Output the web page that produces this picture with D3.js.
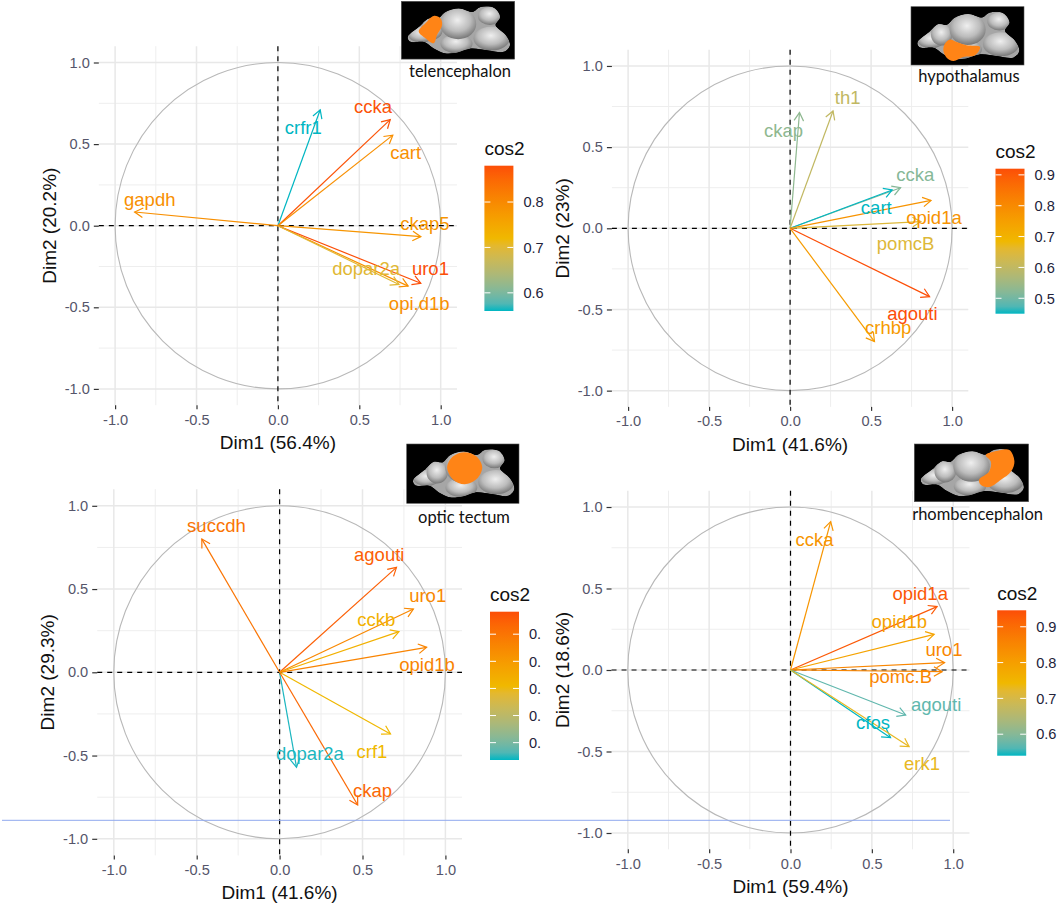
<!DOCTYPE html>
<html>
<head>
<meta charset="utf-8">
<script src="https://cdn.jsdelivr.net/npm/d3@7"></script>
<style>
  body { margin: 0; background: #fff; }
  text { font-family: "Liberation Sans", Arial, sans-serif; }
  .caption { font-family: Lato, "Open Sans", sans-serif; }
</style>
</head>
<body>
<div id="chart"></div>
<script>
// telencephalon
const telGenes = ['crfr1', 'ccka', 'cart', 'gapdh', 'ckap5', 'uro1', 'opi.d1b', 'dopar2a'];
const telDim1 = [0.26, 0.69, 0.706, -0.88, 0.878, 0.878, 0.80, 0.744];
const telDim2 = [0.71, 0.65, 0.555, 0.084, -0.067, -0.353, -0.37, -0.36];
const telCos2 = [0.56, 0.875, 0.79, 0.79, 0.78, 0.88, 0.79, 0.70];
const telLabelX = [0.156, 0.584, 0.785, -0.787, 0.903, 0.937, 0.868, 0.542];
const telLabelY = [0.597, 0.725, 0.447, 0.157, 0.01, -0.268, -0.48, -0.268];

// hypothalamus
const hypGenes = ['ckap', 'th1', 'ccka', 'cart', 'opid1a', 'pomcB', 'agouti', 'crhbp'];
const hypDim1 = [0.058, 0.265, 0.682, 0.63, 0.87, 0.807, 0.861, 0.521];
const hypDim2 = [0.713, 0.723, 0.25, 0.236, 0.172, 0.041, -0.421, -0.698];
const hypCos2 = [0.53, 0.60, 0.52, 0.45, 0.78, 0.65, 0.92, 0.76];
const hypLabelX = [-0.04, 0.355, 0.772, 0.532, 0.888, 0.713, 0.755, 0.605];
const hypLabelY = [0.60, 0.805, 0.329, 0.127, 0.062, -0.099, -0.528, -0.616];

// optic tectum
const optGenes = ['succdh', 'agouti', 'uro1', 'cckb', 'opid1b', 'crf1', 'dopar2a', 'ckap'];
const optDim1 = [-0.469, 0.705, 0.807, 0.72, 0.887, 0.669, 0.102, 0.471];
const optDim2 = [0.80, 0.63, 0.38, 0.244, 0.15, -0.37, -0.57, -0.797];
const optCos2 = [0.90, 0.95, 0.85, 0.73, 0.86, 0.71, 0.44, 0.93];
const optLabelX = [-0.381, 0.601, 0.893, 0.583, 0.889, 0.557, 0.183, 0.561];
const optLabelY = [0.879, 0.705, 0.458, 0.314, 0.044, -0.482, -0.49, -0.711];

// rhombencephalon
const rhoGenes = ['ccka', 'opid1a', 'opid1b', 'uro1', 'pomc.B', 'agouti', 'cfos', 'erk1'];
const rhoDim1 = [0.247, 0.901, 0.883, 0.947, 0.932, 0.708, 0.615, 0.729];
const rhoDim2 = [0.91, 0.389, 0.219, 0.045, -0.01, -0.276, -0.415, -0.47];
const rhoCos2 = [0.82, 0.93, 0.79, 0.85, 0.85, 0.57, 0.54, 0.73];
const rhoLabelX = [0.147, 0.797, 0.669, 0.943, 0.677, 0.895, 0.507, 0.808];
const rhoLabelY = [0.80, 0.466, 0.294, 0.123, -0.041, -0.213, -0.327, -0.577];

const axisTicks = [-1, -0.5, 0, 0.5, 1];
const axisTickLabels = ['-1.0', '-0.5', '0.0', '0.5', '1.0'];
const minorTicks = [-0.75, -0.25, 0.25, 0.75];

const width = 1059, height = 906;
const svg = d3.select('#chart').append('svg')
    .attr('width', width)
    .attr('height', height)
    .style('display', 'block');
const defs = svg.append('defs');

defs.append('filter').attr('id', 'soft')
    .append('feGaussianBlur').attr('stdDeviation', 0.45);
defs.append('clipPath').attr('id', 'legend-cut')
    .append('rect').attr('x', 0).attr('y', 560).attr('width', 541).attr('height', 240);

const lobeGrad = defs.append('radialGradient').attr('id', 'lobe-grad')
    .attr('cx', '48%').attr('cy', '38%').attr('r', '60%');
lobeGrad.append('stop').attr('offset', '0%').attr('stop-color', '#efefef');
lobeGrad.append('stop').attr('offset', '60%').attr('stop-color', '#bcbcbc');
lobeGrad.append('stop').attr('offset', '100%').attr('stop-color', '#7c7c7c');

// brain sketch, in the 339 x 174 units of the inset picture
const brainOutline = [[19,108],[52,78],[82,52],[107,54],[132,32],[172,22],[212,32],[237,17],[277,20],[295,47],[282,72],[312,102],[325,132],[307,152],[257,147],[207,142],[167,154],[132,157],[97,142],[67,122],[27,122]];
const brainLobes = [
  {c: [60, 100], r: [40, 24]},
  {c: [92, 84], r: [32, 32]},
  {c: [265, 44], r: [36, 27]},
  {c: [270, 112], r: [54, 36]},
  {c: [165, 128], r: [48, 28]},
  {c: [170, 68], r: [54, 46]}
];
const telRegion = [[52,91],[72,66],[97,44],[117,51],[122,71],[107,101],[97,126],[72,111]];
const hypRegion = [[117,98],[137,105],[167,115],[207,120],[192,145],[157,150],[127,162],[107,152],[97,130],[102,110]];
const optRegion = [[122,68],[140,36],[175,24],[210,36],[228,68],[212,102],[175,118],[140,104]];
const rhoRegion = [[212,33],[247,20],[282,18],[297,53],[287,83],[257,108],[222,130],[197,123],[192,108],[222,83],[227,53]];

const blob = d3.line().curve(d3.curveCatmullRomClosed.alpha(0.5));

defs.append('clipPath').attr('id', 'brain-clip')
    .append('path').attr('d', blob(brainOutline));

const panels = [
  {genes: telGenes, dim1: telDim1, dim2: telDim2, cos2: telCos2, labelX: telLabelX, labelY: telLabelY,
   xTitle: 'Dim1 (56.4%)', yTitle: 'Dim2 (20.2%)', cx: 277.9, cy: 225.7, ux: 162.8, uy: 163.2,
   legend: {x: 484.4, y0: 165.7, y1: 311, domain: [0.56, 0.88], ticks: [0.6, 0.7, 0.8]},
   inset: {x: 401.3, y: 1.3, w: 113.4, h: 57.8, region: telRegion, name: 'telencephalon', tx: 460, ty: 77}},
  {genes: hypGenes, dim1: hypDim1, dim2: hypDim2, cos2: hypCos2, labelX: hypLabelX, labelY: hypLabelY,
   xTitle: 'Dim1 (41.6%)', yTitle: 'Dim2 (23%)', cx: 790.1, cy: 228.3, ux: 162, uy: 162.35,
   legend: {x: 995.5, y0: 168.7, y1: 313.7, domain: [0.45, 0.92], ticks: [0.5, 0.6, 0.7, 0.8, 0.9]},
   inset: {x: 911, y: 6.7, w: 113, h: 58.3, region: hypRegion, name: 'hypothalamus', tx: 969, ty: 82}},
  {genes: optGenes, dim1: optDim1, dim2: optDim2, cos2: optCos2, labelX: optLabelX, labelY: optLabelY,
   xTitle: 'Dim1 (41.6%)', yTitle: 'Dim2 (29.3%)', cx: 279.6, cy: 672.3, ux: 165.8, uy: 166.5,
   legend: {x: 490, y0: 611.7, y1: 760, domain: [0.436, 0.983], ticks: [0.5, 0.6, 0.7, 0.8, 0.9], cut: true},
   inset: {x: 406.7, y: 444, w: 112.3, h: 59.3, region: optRegion, name: 'optic tectum', tx: 464, ty: 523}},
  {genes: rhoGenes, dim1: rhoDim1, dim2: rhoDim2, cos2: rhoCos2, labelX: rhoLabelX, labelY: rhoLabelY,
   xTitle: 'Dim1 (59.4%)', yTitle: 'Dim2 (18.6%)', cx: 790.5, cy: 670, ux: 162.7, uy: 163,
   legend: {x: 997.2, y0: 610.3, y1: 755.7, domain: [0.54, 0.946], ticks: [0.6, 0.7, 0.8, 0.9]},
   inset: {x: 914.3, y: 444, w: 114.3, h: 57.7, region: rhoRegion, name: 'rhombencephalon', tx: 977.6, ty: 520}}
];

panels.forEach((p, i) => drawPanel(p, i));

// blue stray line across the lower row
svg.append('line')
    .attr('x1', 2).attr('x2', 950)
    .attr('y1', 820.3).attr('y2', 820.3)
    .attr('stroke', '#8fa8ee')
    .attr('stroke-width', 1);

function drawPanel(p, idx) {
    const x = d3.scaleLinear().domain([-1.1, 1.1]).range([p.cx - 1.1 * p.ux, p.cx + 1.1 * p.ux]);
    const y = d3.scaleLinear().domain([-1.1, 1.1]).range([p.cy + 1.1 * p.uy, p.cy - 1.1 * p.uy]);
    const [left, right] = x.range();
    const [bottom, top] = y.range();

    const mid = (p.legend.domain[0] + p.legend.domain[1]) / 2;
    const color = d3.scaleLinear()
        .domain([p.legend.domain[0], mid, p.legend.domain[1]])
        .range(['#00B6C2', '#F0B800', '#FC4E07'])
        .interpolate(d3.interpolateLab)
        .clamp(true);

    const g = svg.append('g');

    // grid
    g.append('g').selectAll('line').data(minorTicks).join('line')
        .attr('x1', d => x(d)).attr('x2', d => x(d)).attr('y1', top).attr('y2', bottom)
        .attr('stroke', '#eeeeee').attr('stroke-width', 1);
    g.append('g').selectAll('line').data(minorTicks).join('line')
        .attr('y1', d => y(d)).attr('y2', d => y(d)).attr('x1', left).attr('x2', right)
        .attr('stroke', '#eeeeee').attr('stroke-width', 1);
    g.append('g').selectAll('line').data(axisTicks).join('line')
        .attr('x1', d => x(d)).attr('x2', d => x(d)).attr('y1', top).attr('y2', bottom)
        .attr('stroke', '#e8e8e8').attr('stroke-width', 1.5);
    g.append('g').selectAll('line').data(axisTicks).join('line')
        .attr('y1', d => y(d)).attr('y2', d => y(d)).attr('x1', left).attr('x2', right)
        .attr('stroke', '#e8e8e8').attr('stroke-width', 1.5);

    // unit circle
    g.append('ellipse')
        .attr('cx', x(0)).attr('cy', y(0))
        .attr('rx', x(1) - x(0)).attr('ry', y(0) - y(1))
        .attr('fill', 'none').attr('stroke', '#b8b8b8').attr('stroke-width', 1.1);

    // zero lines
    g.append('line').attr('x1', left).attr('x2', right).attr('y1', y(0)).attr('y2', y(0))
        .attr('stroke', '#000').attr('stroke-width', 1.2).attr('stroke-dasharray', '5,5');
    g.append('line').attr('x1', x(0)).attr('x2', x(0)).attr('y1', top).attr('y2', bottom)
        .attr('stroke', '#000').attr('stroke-width', 1.2).attr('stroke-dasharray', '5,5');

    // axes
    const xAxis = d3.axisBottom(x).tickValues(axisTicks).tickFormat((d, i) => axisTickLabels[i]).tickSize(4).tickPadding(5);
    const yAxis = d3.axisLeft(y).tickValues(axisTicks).tickFormat((d, i) => axisTickLabels[i]).tickSize(5).tickPadding(4);
    const xG = g.append('g').attr('transform', `translate(0,${bottom})`).call(xAxis);
    const yG = g.append('g').attr('transform', `translate(${left},0)`).call(yAxis);
    [xG, yG].forEach(a => {
        a.select('.domain').remove();
        a.selectAll('.tick line').attr('stroke', '#333').attr('stroke-width', 1.2);
        a.selectAll('.tick text')
            .attr('fill', '#55556a')
            .style('font-size', '14.6px')
            .style('font-family', '"Liberation Sans", Arial, sans-serif');
    });

    g.append('text')
        .attr('x', x(0)).attr('y', bottom + 44)
        .attr('text-anchor', 'middle')
        .attr('font-size', 19).attr('fill', '#111')
        .text(p.xTitle);
    g.append('text')
        .attr('transform', `translate(${left - 43},${y(0)}) rotate(-90)`)
        .attr('text-anchor', 'middle')
        .attr('font-size', 19).attr('fill', '#111')
        .text(p.yTitle);

    // arrows
    const rows = p.genes.map((gene, i) => ({
        gene, d1: p.dim1[i], d2: p.dim2[i], cos2: p.cos2[i], lx: p.labelX[i], ly: p.labelY[i]
    }));
    const arrows = g.append('g').selectAll('g').data(rows).join('g')
        .attr('stroke', d => color(d.cos2))
        .attr('fill', 'none')
        .attr('stroke-width', 1.2);
    arrows.append('line')
        .attr('x1', x(0)).attr('y1', y(0))
        .attr('x2', d => x(d.d1)).attr('y2', d => y(d.d2));
    arrows.append('path').attr('d', d => {
        const tx = x(d.d1), ty = y(d.d2);
        const a = Math.atan2(ty - y(0), tx - x(0));
        const len = 9.5, spread = Math.PI / 6;
        const p1 = [tx - len * Math.cos(a - spread), ty - len * Math.sin(a - spread)];
        const p2 = [tx - len * Math.cos(a + spread), ty - len * Math.sin(a + spread)];
        return `M${p1}L${tx},${ty}L${p2}`;
    });

    // gene labels
    g.append('g').selectAll('text').data(rows).join('text')
        .attr('x', d => x(d.lx)).attr('y', d => y(d.ly))
        .attr('dy', '0.32em')
        .attr('text-anchor', 'middle')
        .attr('font-size', 18.5)
        .attr('fill', d => color(d.cos2))
        .text(d => d.gene);

    drawLegend(p.legend, color, idx);
    drawInset(p.inset);
}

function drawLegend(l, color, idx) {
    const barW = 29;
    const scale = d3.scaleLinear().domain(l.domain).range([l.y1, l.y0]);
    const grad = defs.append('linearGradient').attr('id', 'legend-grad-' + idx)
        .attr('x1', 0).attr('x2', 0).attr('y1', 0).attr('y2', 1);
    d3.range(0, 1.001, 0.05).forEach(t => {
        grad.append('stop')
            .attr('offset', t)
            .attr('stop-color', color(l.domain[1] - t * (l.domain[1] - l.domain[0])));
    });

    const g = svg.append('g');
    g.append('text')
        .attr('x', l.x).attr('y', l.y0 - 10.5)
        .attr('font-size', 19).attr('fill', '#111')
        .text('cos2');
    g.append('rect')
        .attr('x', l.x).attr('y', l.y0)
        .attr('width', barW).attr('height', l.y1 - l.y0)
        .attr('fill', `url(#legend-grad-${idx})`);

    const ticks = g.append('g').selectAll('g').data(l.ticks).join('g');
    ticks.append('line')
        .attr('x1', l.x).attr('x2', l.x + 6)
        .attr('y1', d => scale(d)).attr('y2', d => scale(d))
        .attr('stroke', '#fff').attr('stroke-width', 1);
    ticks.append('line')
        .attr('x1', l.x + barW - 6).attr('x2', l.x + barW)
        .attr('y1', d => scale(d)).attr('y2', d => scale(d))
        .attr('stroke', '#fff').attr('stroke-width', 1);
    ticks.append('text')
        .attr('x', l.x + barW + 10)
        .attr('y', d => scale(d))
        .attr('dy', '0.36em')
        .attr('font-size', 14.6)
        .attr('fill', '#23233a')
        .attr('clip-path', l.cut ? 'url(#legend-cut)' : null)
        .text(d => d3.format('.1f')(d));
}

function drawInset(ins) {
    const g = svg.append('g').attr('transform', `translate(${ins.x},${ins.y})`);
    g.append('rect').attr('width', ins.w).attr('height', ins.h).attr('fill', '#000');
    const art = g.append('g')
        .attr('transform', `scale(${ins.w / 339},${ins.h / 174})`)
        .attr('filter', 'url(#soft)');
    const lobes = art.append('g').attr('clip-path', 'url(#brain-clip)');
    lobes.append('path').attr('d', blob(brainOutline)).attr('fill', '#a6a6a6');
    lobes.selectAll('ellipse').data(brainLobes).join('ellipse')
        .attr('cx', d => d.c[0]).attr('cy', d => d.c[1])
        .attr('rx', d => d.r[0]).attr('ry', d => d.r[1])
        .attr('fill', 'url(#lobe-grad)');
    art.append('path').attr('d', blob(ins.region)).attr('fill', '#ff8419');
    g.append('rect').attr('width', ins.w).attr('height', ins.h)
        .attr('fill', 'none').attr('stroke', '#555').attr('stroke-width', 0.6);

    svg.append('text')
        .attr('class', 'caption')
        .attr('x', ins.tx).attr('y', ins.ty)
        .attr('text-anchor', 'middle')
        .attr('font-size', 16.5).attr('fill', '#111')
        .text(ins.name);
}
</script>
</body>
</html>
